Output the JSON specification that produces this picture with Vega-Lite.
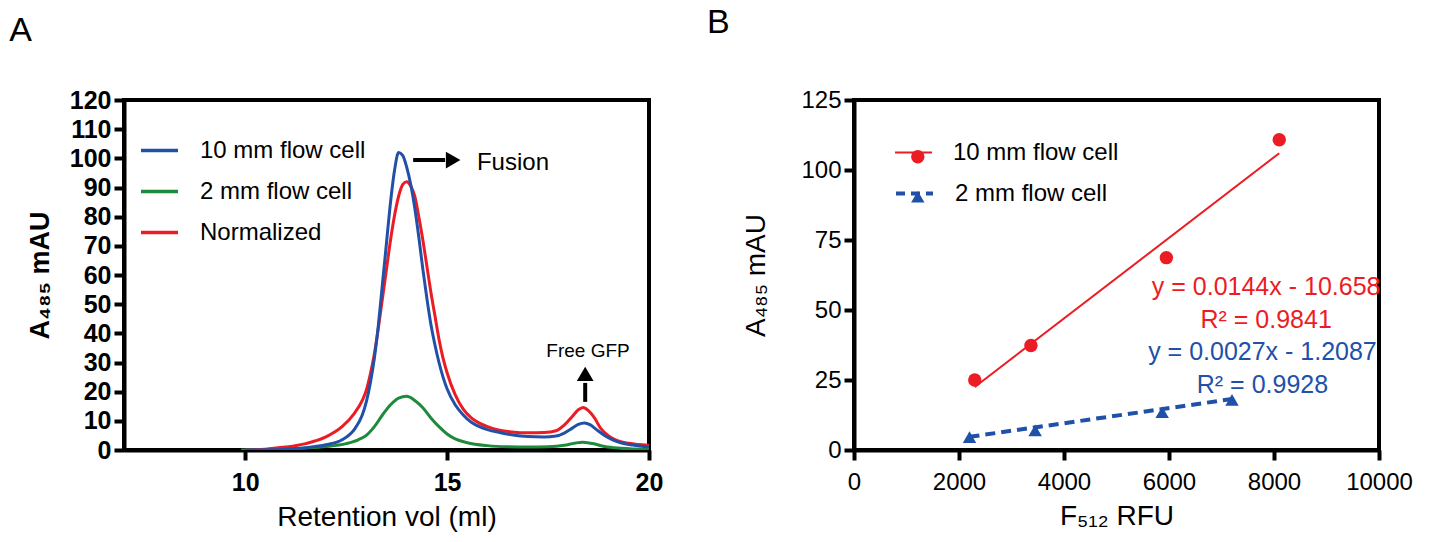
{
  "$schema": "https://vega.github.io/schema/vega-lite/v6.json",
  "background": "white",
  "padding": {"left": 7, "top": 4, "right": 5, "bottom": 5},
  "config": {
    "font": "Liberation Sans",
    "view": {"stroke": "black", "strokeWidth": 4},
    "axis": {"grid": false, "domainColor": "black", "domainWidth": 4, "tickColor": "black", "tickWidth": 4, "tickSize": 10, "labelColor": "black", "titleColor": "black", "labelFontSize": 24, "titleFontSize": 28, "titleFontWeight": "normal", "labelPadding": 6, "labelFlush": false, "labelOverlap": false},
    "legend": {"labelFontSize": 24, "labelColor": "black", "labelLimit": 400},
    "title": {"fontSize": 34, "fontWeight": "normal", "anchor": "start", "color": "black"}
  },
  "resolve": {"scale": {"color": "independent", "shape": "independent", "x": "independent", "y": "independent"}, "legend": {"color": "independent", "shape": "independent"}},
  "spacing": 39,
  "hconcat": [
    {
      "width": 525,
      "height": 350,
      "title": {"text": "A", "dx": -17, "offset": 40},
      "layer": [
        {
          "data": {"values": [
            {"s": "2 mm flow cell", "v": 9.9, "a": 0},
            {"s": "2 mm flow cell", "v": 10.5, "a": 0.2},
            {"s": "2 mm flow cell", "v": 11, "a": 0.4},
            {"s": "2 mm flow cell", "v": 11.5, "a": 0.7},
            {"s": "2 mm flow cell", "v": 12, "a": 1.2},
            {"s": "2 mm flow cell", "v": 12.5, "a": 2.2},
            {"s": "2 mm flow cell", "v": 12.8, "a": 3.5},
            {"s": "2 mm flow cell", "v": 13, "a": 5},
            {"s": "2 mm flow cell", "v": 13.2, "a": 8},
            {"s": "2 mm flow cell", "v": 13.4, "a": 12},
            {"s": "2 mm flow cell", "v": 13.6, "a": 15.5},
            {"s": "2 mm flow cell", "v": 13.8, "a": 17.8},
            {"s": "2 mm flow cell", "v": 14, "a": 18.4},
            {"s": "2 mm flow cell", "v": 14.2, "a": 17},
            {"s": "2 mm flow cell", "v": 14.4, "a": 14.5},
            {"s": "2 mm flow cell", "v": 14.6, "a": 11},
            {"s": "2 mm flow cell", "v": 14.8, "a": 8},
            {"s": "2 mm flow cell", "v": 15, "a": 5.5},
            {"s": "2 mm flow cell", "v": 15.2, "a": 3.8},
            {"s": "2 mm flow cell", "v": 15.5, "a": 2.5},
            {"s": "2 mm flow cell", "v": 16, "a": 1.5},
            {"s": "2 mm flow cell", "v": 16.5, "a": 1.1},
            {"s": "2 mm flow cell", "v": 17, "a": 1},
            {"s": "2 mm flow cell", "v": 17.5, "a": 1.1},
            {"s": "2 mm flow cell", "v": 17.9, "a": 1.6},
            {"s": "2 mm flow cell", "v": 18.15, "a": 2.3},
            {"s": "2 mm flow cell", "v": 18.35, "a": 2.7},
            {"s": "2 mm flow cell", "v": 18.6, "a": 2.2},
            {"s": "2 mm flow cell", "v": 18.9, "a": 1.2},
            {"s": "2 mm flow cell", "v": 19.3, "a": 0.6},
            {"s": "2 mm flow cell", "v": 20, "a": 0.2},
            {"s": "Normalized", "v": 10, "a": 0},
            {"s": "Normalized", "v": 10.5, "a": 0.3},
            {"s": "Normalized", "v": 11, "a": 1},
            {"s": "Normalized", "v": 11.5, "a": 2.2},
            {"s": "Normalized", "v": 12, "a": 4.5},
            {"s": "Normalized", "v": 12.4, "a": 8},
            {"s": "Normalized", "v": 12.7, "a": 12.5},
            {"s": "Normalized", "v": 12.9, "a": 17},
            {"s": "Normalized", "v": 13, "a": 20.5},
            {"s": "Normalized", "v": 13.1, "a": 26},
            {"s": "Normalized", "v": 13.2, "a": 33},
            {"s": "Normalized", "v": 13.3, "a": 42},
            {"s": "Normalized", "v": 13.4, "a": 52},
            {"s": "Normalized", "v": 13.5, "a": 62},
            {"s": "Normalized", "v": 13.6, "a": 72},
            {"s": "Normalized", "v": 13.7, "a": 80.5},
            {"s": "Normalized", "v": 13.8, "a": 87},
            {"s": "Normalized", "v": 13.9, "a": 91},
            {"s": "Normalized", "v": 14, "a": 92},
            {"s": "Normalized", "v": 14.1, "a": 90.5},
            {"s": "Normalized", "v": 14.2, "a": 87},
            {"s": "Normalized", "v": 14.3, "a": 80},
            {"s": "Normalized", "v": 14.4, "a": 72},
            {"s": "Normalized", "v": 14.5, "a": 63},
            {"s": "Normalized", "v": 14.6, "a": 54},
            {"s": "Normalized", "v": 14.7, "a": 46},
            {"s": "Normalized", "v": 14.8, "a": 38},
            {"s": "Normalized", "v": 14.9, "a": 31.5},
            {"s": "Normalized", "v": 15, "a": 26.5},
            {"s": "Normalized", "v": 15.2, "a": 19},
            {"s": "Normalized", "v": 15.4, "a": 14},
            {"s": "Normalized", "v": 15.6, "a": 11},
            {"s": "Normalized", "v": 15.8, "a": 9.2},
            {"s": "Normalized", "v": 16, "a": 8},
            {"s": "Normalized", "v": 16.3, "a": 6.8},
            {"s": "Normalized", "v": 16.6, "a": 6.2},
            {"s": "Normalized", "v": 17, "a": 5.9},
            {"s": "Normalized", "v": 17.4, "a": 6},
            {"s": "Normalized", "v": 17.7, "a": 6.6},
            {"s": "Normalized", "v": 17.9, "a": 8.5},
            {"s": "Normalized", "v": 18.1, "a": 11.5},
            {"s": "Normalized", "v": 18.25, "a": 13.8},
            {"s": "Normalized", "v": 18.37, "a": 14.6},
            {"s": "Normalized", "v": 18.5, "a": 13.5},
            {"s": "Normalized", "v": 18.65, "a": 11},
            {"s": "Normalized", "v": 18.8, "a": 7.5},
            {"s": "Normalized", "v": 19, "a": 4.8},
            {"s": "Normalized", "v": 19.2, "a": 3.3},
            {"s": "Normalized", "v": 19.5, "a": 2.3},
            {"s": "Normalized", "v": 20, "a": 1.6},
            {"s": "10 mm flow cell", "v": 10, "a": 0},
            {"s": "10 mm flow cell", "v": 10.5, "a": 0.1},
            {"s": "10 mm flow cell", "v": 11, "a": 0.3},
            {"s": "10 mm flow cell", "v": 11.5, "a": 0.8},
            {"s": "10 mm flow cell", "v": 12, "a": 1.8},
            {"s": "10 mm flow cell", "v": 12.4, "a": 3.5},
            {"s": "10 mm flow cell", "v": 12.7, "a": 7},
            {"s": "10 mm flow cell", "v": 12.9, "a": 12},
            {"s": "10 mm flow cell", "v": 13, "a": 16.5},
            {"s": "10 mm flow cell", "v": 13.1, "a": 23},
            {"s": "10 mm flow cell", "v": 13.2, "a": 31.5},
            {"s": "10 mm flow cell", "v": 13.3, "a": 43},
            {"s": "10 mm flow cell", "v": 13.4, "a": 57},
            {"s": "10 mm flow cell", "v": 13.5, "a": 71},
            {"s": "10 mm flow cell", "v": 13.6, "a": 85},
            {"s": "10 mm flow cell", "v": 13.7, "a": 96},
            {"s": "10 mm flow cell", "v": 13.8, "a": 102},
            {"s": "10 mm flow cell", "v": 13.9, "a": 101},
            {"s": "10 mm flow cell", "v": 14, "a": 97},
            {"s": "10 mm flow cell", "v": 14.1, "a": 91},
            {"s": "10 mm flow cell", "v": 14.2, "a": 83},
            {"s": "10 mm flow cell", "v": 14.3, "a": 73},
            {"s": "10 mm flow cell", "v": 14.4, "a": 62},
            {"s": "10 mm flow cell", "v": 14.5, "a": 52},
            {"s": "10 mm flow cell", "v": 14.6, "a": 43},
            {"s": "10 mm flow cell", "v": 14.7, "a": 36},
            {"s": "10 mm flow cell", "v": 14.8, "a": 30},
            {"s": "10 mm flow cell", "v": 14.9, "a": 25},
            {"s": "10 mm flow cell", "v": 15, "a": 21},
            {"s": "10 mm flow cell", "v": 15.2, "a": 15.5},
            {"s": "10 mm flow cell", "v": 15.4, "a": 12},
            {"s": "10 mm flow cell", "v": 15.6, "a": 9.5},
            {"s": "10 mm flow cell", "v": 15.8, "a": 8},
            {"s": "10 mm flow cell", "v": 16, "a": 7},
            {"s": "10 mm flow cell", "v": 16.3, "a": 6},
            {"s": "10 mm flow cell", "v": 16.6, "a": 5.2},
            {"s": "10 mm flow cell", "v": 17, "a": 4.6},
            {"s": "10 mm flow cell", "v": 17.4, "a": 4.5},
            {"s": "10 mm flow cell", "v": 17.7, "a": 4.8},
            {"s": "10 mm flow cell", "v": 17.9, "a": 5.8},
            {"s": "10 mm flow cell", "v": 18.1, "a": 7.5},
            {"s": "10 mm flow cell", "v": 18.25, "a": 8.8},
            {"s": "10 mm flow cell", "v": 18.4, "a": 9.3},
            {"s": "10 mm flow cell", "v": 18.55, "a": 8.6},
            {"s": "10 mm flow cell", "v": 18.7, "a": 7},
            {"s": "10 mm flow cell", "v": 18.9, "a": 5},
            {"s": "10 mm flow cell", "v": 19.1, "a": 3.5},
            {"s": "10 mm flow cell", "v": 19.3, "a": 2.5},
            {"s": "10 mm flow cell", "v": 19.6, "a": 1.7},
            {"s": "10 mm flow cell", "v": 20, "a": 1}
          ]},
          "mark": {"type": "line", "strokeWidth": 3, "interpolate": "monotone", "clip": true},
          "encoding": {
            "x": {"field": "v", "type": "quantitative", "scale": {"domain": [7, 20], "nice": false, "zero": false},
                  "axis": {"values": [10, 15, 20], "labelFontWeight": "bold", "labelFontSize": 25, "title": "Retention vol (ml)", "titlePadding": 8, "labelPadding": 10}},
            "y": {"field": "a", "type": "quantitative", "scale": {"domain": [0, 120], "nice": false},
                  "axis": {"values": [0, 10, 20, 30, 40, 50, 60, 70, 80, 90, 100, 110, 120], "tickCount": 13, "labelFontWeight": "bold", "labelFontSize": 25, "title": "A₄₈₅ mAU", "titleFontWeight": "bold", "titleFontSize": 27, "titlePadding": 15, "labelPadding": 3}},
            "color": {"field": "s", "type": "nominal",
                      "scale": {"domain": ["10 mm flow cell", "2 mm flow cell", "Normalized"], "range": ["#2150a8", "#1e8a3c", "#ec1c24"]},
                      "legend": {"orient": "none", "legendX": 15, "legendY": 30, "title": null, "symbolType": "stroke", "symbolStrokeWidth": 3.5, "symbolSize": 1369, "labelOffset": 20, "rowPadding": 8, "labelFontSize": 24}},
            "order": {"field": "v", "type": "quantitative"}
          }
        },
        {
          "data": {"values": [{"x": 14.16, "x2": 14.95, "y": 99.4}]},
          "mark": {"type": "rule", "strokeWidth": 4, "color": "black"},
          "encoding": {"x": {"field": "x", "type": "quantitative"}, "x2": {"field": "x2"}, "y": {"field": "y", "type": "quantitative"}}
        },
        {
          "data": {"values": [{"x": 18.42, "y": 16.5, "y2": 23}]},
          "mark": {"type": "rule", "strokeWidth": 4, "color": "black"},
          "encoding": {"x": {"field": "x", "type": "quantitative"}, "y": {"field": "y", "type": "quantitative"}, "y2": {"field": "y2"}}
        },
        {
          "data": {"values": [{"x": 15.15, "y": 99.4}]},
          "mark": {"type": "point", "shape": "triangle-right", "filled": true, "color": "black", "opacity": 1, "size": 280},
          "encoding": {"x": {"field": "x", "type": "quantitative"}, "y": {"field": "y", "type": "quantitative"}}
        },
        {
          "data": {"values": [{"x": 18.42, "y": 26.1}]},
          "mark": {"type": "point", "shape": "triangle-up", "filled": true, "color": "black", "opacity": 1, "size": 280},
          "encoding": {"x": {"field": "x", "type": "quantitative"}, "y": {"field": "y", "type": "quantitative"}}
        },
        {
          "data": {"values": [{"x": 15.74, "y": 98.4, "t": "Fusion"}]},
          "mark": {"type": "text", "align": "left", "baseline": "middle", "fontSize": 24, "color": "black"},
          "encoding": {"x": {"field": "x", "type": "quantitative"}, "y": {"field": "y", "type": "quantitative"}, "text": {"field": "t"}}
        },
        {
          "data": {"values": [{"x": 18.49, "y": 33.9, "t": "Free GFP"}]},
          "mark": {"type": "text", "align": "center", "baseline": "middle", "fontSize": 19, "color": "black"},
          "encoding": {"x": {"field": "x", "type": "quantitative"}, "y": {"field": "y", "type": "quantitative"}, "text": {"field": "t"}}
        }
      ]
    },
    {
      "width": 525,
      "height": 350,
      "title": {"text": "B", "dx": -36, "offset": 48},
      "resolve": {"scale": {"color": "independent", "shape": "independent"}, "legend": {"color": "independent", "shape": "independent"}},
      "layer": [
        {
          "data": {"values": [{"l1": "10 mm flow cell", "x": 2300, "y": 22.5}, {"l1": "10 mm flow cell", "x": 8100, "y": 106.0}]},
          "mark": {"type": "line", "strokeWidth": 2},
          "encoding": {
            "x": {"field": "x", "type": "quantitative", "scale": {"domain": [0, 10000], "nice": false},
                  "axis": {"values": [0, 2000, 4000, 6000, 8000, 10000], "format": "d", "title": "F₅₁₂ RFU", "titlePadding": 8, "labelPadding": 10}},
            "y": {"field": "y", "type": "quantitative", "scale": {"domain": [0, 125], "nice": false},
                  "axis": {"values": [0, 25, 50, 75, 100, 125], "title": "A₄₈₅ mAU", "titlePadding": 30, "titleFontSize": 28, "labelPadding": 3}},
            "color": {"field": "l1", "type": "nominal", "scale": {"range": ["#ec1c24"]},
                      "legend": {"orient": "none", "legendX": 40, "legendY": 33, "title": null, "symbolType": "stroke", "symbolSize": 1369, "symbolStrokeWidth": 2, "labelOffset": 20, "labelFontSize": 24}}
          }
        },
        {
          "data": {"values": [{"l2": "2 mm flow cell", "x": 2200, "y": 4.7}, {"l2": "2 mm flow cell", "x": 7200, "y": 18.2}]},
          "mark": {"type": "line", "strokeWidth": 4, "strokeDash": [10, 6]},
          "encoding": {
            "x": {"field": "x", "type": "quantitative"},
            "y": {"field": "y", "type": "quantitative"},
            "color": {"field": "l2", "type": "nominal", "scale": {"range": ["#2150a8"]},
                      "legend": {"orient": "none", "legendX": 40, "legendY": 73, "title": null, "symbolType": "stroke", "symbolSize": 1369, "symbolStrokeWidth": 4, "symbolDash": [9, 6], "labelOffset": 20, "labelFontSize": 24}}
          }
        },
        {
          "data": {"values": [
            {"p1": "10 mm flow cell", "x": 2300, "y": 25},
            {"p1": "10 mm flow cell", "x": 3370, "y": 37.3},
            {"p1": "10 mm flow cell", "x": 5950, "y": 68.7},
            {"p1": "10 mm flow cell", "x": 8100, "y": 110.8}
          ]},
          "mark": {"type": "point", "filled": true, "opacity": 1, "size": 180, "shape": "circle"},
          "encoding": {
            "x": {"field": "x", "type": "quantitative"},
            "y": {"field": "y", "type": "quantitative"},
            "color": {"field": "p1", "type": "nominal", "scale": {"range": ["#ec1c24"]},
                      "legend": {"orient": "none", "legendX": 51.8, "legendY": 44.8, "title": null, "symbolSize": 180, "symbolOpacity": 1, "labelOpacity": 0, "labelExpr": "''", "labelFontSize": 24}}
          }
        },
        {
          "data": {"values": [
            {"p2": "2 mm flow cell", "x": 2200, "y": 4.6},
            {"p2": "2 mm flow cell", "x": 3450, "y": 7},
            {"p2": "2 mm flow cell", "x": 5870, "y": 13.5},
            {"p2": "2 mm flow cell", "x": 7200, "y": 17.9}
          ]},
          "mark": {"type": "point", "filled": true, "opacity": 1, "size": 180, "shape": "triangle-up"},
          "encoding": {
            "x": {"field": "x", "type": "quantitative"},
            "y": {"field": "y", "type": "quantitative"},
            "color": {"field": "p2", "type": "nominal", "scale": {"range": ["#2150a8"]},
                      "legend": {"orient": "none", "legendX": 51.8, "legendY": 84.8, "title": null, "symbolSize": 180, "symbolType": "triangle-up", "symbolOpacity": 1, "labelOpacity": 0, "labelExpr": "''", "labelFontSize": 24}}
          }
        },
        {
          "data": {"values": [
            {"x": 7850, "y": 58.2, "t": "y = 0.0144x - 10.658"},
            {"x": 7850, "y": 46.4, "t": "R² = 0.9841"}
          ]},
          "mark": {"type": "text", "align": "center", "baseline": "middle", "fontSize": 25, "color": "#ec1c24"},
          "encoding": {"x": {"field": "x", "type": "quantitative"}, "y": {"field": "y", "type": "quantitative"}, "text": {"field": "t"}}
        },
        {
          "data": {"values": [
            {"x": 7780, "y": 35, "t": "y = 0.0027x - 1.2087"},
            {"x": 7780, "y": 23.2, "t": "R² = 0.9928"}
          ]},
          "mark": {"type": "text", "align": "center", "baseline": "middle", "fontSize": 25, "color": "#2150a8"},
          "encoding": {"x": {"field": "x", "type": "quantitative"}, "y": {"field": "y", "type": "quantitative"}, "text": {"field": "t"}}
        }
      ]
    }
  ]
}
